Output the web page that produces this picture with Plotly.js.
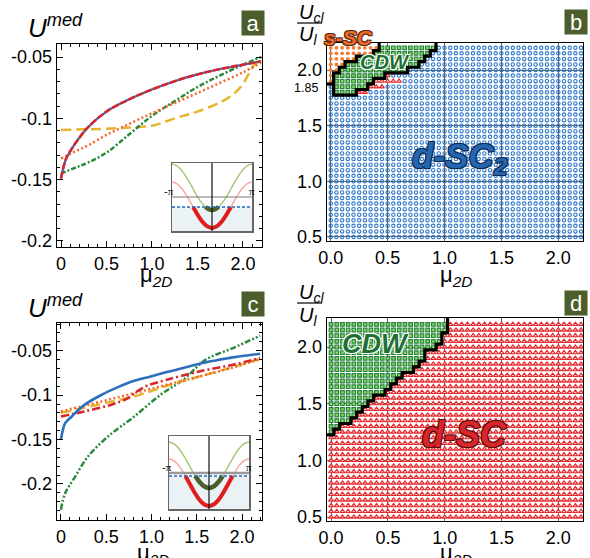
<!DOCTYPE html>
<html><head><meta charset="utf-8">
<script src="https://cdn.plot.ly/plotly-3.0.1.min.js"></script>
<style>body{margin:0;background:#fff}#chart{width:590px;height:558px}</style>
</head><body><div id="chart"></div>
<script>
// ================= DATA =================
// Panel a : U^med vs mu_2D
const muA      = [0, 0.05, 0.1, 0.2, 0.3, 0.5, 0.75, 1.0, 1.25, 1.5, 1.75, 2.0, 2.2];
const aBlue    = [-0.149, -0.134, -0.127, -0.116, -0.107, -0.0945, -0.0845, -0.0765, -0.0697, -0.0642, -0.0598, -0.0563, -0.0535];
const aRed     = [-0.149, -0.134, -0.127, -0.116, -0.107, -0.0945, -0.0845, -0.0765, -0.0697, -0.0642, -0.0598, -0.0563, -0.0535];
const aOrange  = [-0.1326, -0.131, -0.129, -0.1255, -0.122, -0.1135, -0.1045, -0.0958, -0.0875, -0.0794, -0.071, -0.0625, -0.0545];
const aGreen   = [-0.145, -0.1435, -0.142, -0.139, -0.136, -0.128, -0.113, -0.098, -0.086, -0.0745, -0.065, -0.0563, -0.05];
const muAYel   = [0, 0.25, 0.5, 0.75, 1.0, 1.25, 1.5, 1.75, 1.9, 2.0, 2.07, 2.13, 2.2];
const aYellow  = [-0.1095, -0.109, -0.1085, -0.1075, -0.106, -0.1, -0.0945, -0.087, -0.080, -0.072, -0.063, -0.056, -0.0525];

// Panel c : U^med vs mu_2D
const muCBlue  = [0, 0.02, 0.047, 0.12, 0.26, 0.45, 0.63, 0.81, 0.99, 1.17, 1.35, 1.53, 1.71, 1.9, 2.2];
const cBlue    = [-0.150, -0.140, -0.1316, -0.124, -0.111, -0.0996, -0.091, -0.0838, -0.079, -0.074, -0.0695, -0.0647, -0.061, -0.0575, -0.0534];
const muCRed   = [0, 0.26, 0.55, 0.74, 0.84, 0.95, 1.17, 1.53, 1.9, 2.2];
const cRed     = [-0.124, -0.1184, -0.111, -0.1034, -0.0959, -0.0895, -0.0827, -0.0733, -0.0658, -0.0583];
const muCLin   = [0, 0.45, 0.81, 1.17, 1.53, 1.9, 2.2];
const cOrange  = [-0.1184, -0.1071, -0.0977, -0.0883, -0.079, -0.0688, -0.0594];
const cYellow  = [-0.120, -0.1098, -0.1015, -0.0895, -0.079, -0.0684, -0.059];
const muCGreen = [0, 0.047, 0.156, 0.3, 0.52, 0.81, 1.1, 1.35, 1.6, 1.9, 2.2];
const cGreen   = [-0.229, -0.2105, -0.192, -0.169, -0.1466, -0.124, -0.0996, -0.0827, -0.060, -0.047, -0.033];

// Insets (schematic bands, k from -pi to pi)
const kBand = [-3.1416, -2.7489, -2.3562, -1.9635, -1.5708, -1.1781, -0.7854, -0.3927, 0, 0.3927, 0.7854, 1.1781, 1.5708, 1.9635, 2.3562, 2.7489, 3.1416];
const insA_upper = [0.985, 0.959, 0.886, 0.777, 0.648, 0.518, 0.409, 0.336, 0.31, 0.336, 0.409, 0.518, 0.648, 0.777, 0.886, 0.959, 0.985];
const insA_lower = [0.72, 0.694, 0.621, 0.512, 0.383, 0.253, 0.144, 0.071, 0.045, 0.071, 0.144, 0.253, 0.383, 0.512, 0.621, 0.694, 0.72];
const insA_kOccLow = [-1.48, -1.1781, -0.7854, -0.3927, 0, 0.3927, 0.7854, 1.1781, 1.48];
const insA_occLow  = [0.353, 0.254, 0.144, 0.071, 0.045, 0.071, 0.144, 0.254, 0.353];
const insA_kOccUp  = [-0.51, -0.25, 0, 0.25, 0.51];
const insA_occUp   = [0.353, 0.321, 0.31, 0.321, 0.353];
const insA_fermi = 0.353, insA_ref = 0.5;

const insC_upper = [0.918, 0.894, 0.826, 0.724, 0.603, 0.482, 0.380, 0.312, 0.288, 0.312, 0.380, 0.482, 0.603, 0.724, 0.826, 0.894, 0.918];
const insC_lower = [0.685, 0.661, 0.591, 0.486, 0.363, 0.240, 0.135, 0.065, 0.041, 0.065, 0.135, 0.240, 0.363, 0.486, 0.591, 0.661, 0.685];
const insC_kOccLow = [-1.85, -1.5708, -1.1781, -0.7854, -0.3927, 0, 0.3927, 0.7854, 1.1781, 1.5708, 1.85];
const insC_occLow  = [0.452, 0.363, 0.240, 0.135, 0.065, 0.041, 0.065, 0.135, 0.240, 0.363, 0.452];
const insC_kOccUp  = [-1.07, -0.7854, -0.3927, 0, 0.3927, 0.7854, 1.07];
const insC_occUp   = [0.452, 0.380, 0.312, 0.288, 0.312, 0.380, 0.452];
const insC_fermi = 0.452, insC_ref = 0.493;

// Phase diagrams: grid of (mu_2D, U_cl/U_l)
const MU_MIN = 0, MU_MAX = 2.2, U_MIN = 0.5, U_MAX = 2.2, STEP = 0.05;
// panel b: rows with non d-SC2 phases
const rowsB     = [2.2, 2.15, 2.1, 2.05, 2.0, 1.95, 1.9, 1.85, 1.8];
const sscEndB   = [0.4, 0.35, 0.2, 0.1, 0.05, 0, 0, null, null];
const cdwStartB = [0.45, 0.4, 0.25, 0.15, 0.1, 0.05, 0.05, 0.05, 0.05];
const cdwEndB   = [0.9, 0.85, 0.8, 0.75, 0.65, 0.45, 0.35, 0.3, 0.2];
const dscEndB   = [0.9, 0.85, 0.8, 0.75, 0.65, 0.5, 0.6, 0.45, 0.3];
// panel d: CDW up to cdwEndD in each row, d-SC elsewhere
const rowsD   = [2.2, 2.15, 2.1, 2.05, 2.0, 1.95, 1.9, 1.85, 1.8, 1.75, 1.7, 1.65, 1.6, 1.55, 1.5, 1.45, 1.4, 1.35, 1.3, 1.25];
const cdwEndD = [1.0, 1.0, 0.95, 0.95, 0.9, 0.8, 0.8, 0.75, 0.7, 0.6, 0.55, 0.5, 0.45, 0.35, 0.3, 0.25, 0.2, 0.15, 0.05, 0.0];

// tick labels
const tickA_x = [0, 0.5, 1, 1.5, 2], tickA_xt = ['0', '0.5', '1.0', '1.5', '2.0'];
const tickA_y = [-0.2, -0.15, -0.1, -0.05], tickA_yt = ['-0.2', '-0.15', '-0.1', '-0.05'];
const tickPD_x = [0, 0.5, 1, 1.5, 2], tickPD_xt = ['0.0', '0.5', '1.0', '1.5', '2.0'];
const tickPD_y = [0.5, 1, 1.5, 2], tickPD_yt = ['0.5', '1.0', '1.5', '2.0'];

// ================= BUILD =================
const W = 590, H = 558;
const px = v => v / W, py = v => 1 - v / H;
const FONT = 'Liberation Sans, Arial, sans-serif';
const C = {blue:'#2d6fbe', red:'#d8262c', orange:'#f2692b', green:'#2a8a3c', yellow:'#e8b42c'};
const traces = [];
function ln(x, y, color, width, dash, xa, ya) {
  return {x, y, type:'scatter', mode:'lines', xaxis:xa, yaxis:ya, hoverinfo:'skip',
          line:{color, width, dash: dash || 'solid', shape:'spline', smoothing:1}};
}
// panel a
traces.push(ln(muAYel, aYellow, C.yellow, 2.5, '10px,5px', 'x', 'y'));
traces.push(ln(muA, aGreen, C.green, 2.5, '5px,2px,2px,2px', 'x', 'y'));
traces.push(ln(muA, aOrange, C.orange, 2.5, '2px,2.5px', 'x', 'y'));
traces.push(ln(muA, aBlue, C.blue, 2.2, 'solid', 'x', 'y'));
traces.push(ln(muA, aRed, C.red, 2.6, '7px,2px', 'x', 'y'));
// panel c
traces.push(ln(muCGreen, cGreen, C.green, 2.5, '6px,2px,2px,2px,2px,2px', 'x3', 'y3'));
traces.push(ln(muCLin, cYellow, C.yellow, 2.5, '10px,5px', 'x3', 'y3'));
traces.push(ln(muCLin, cOrange, C.orange, 2.5, '2px,2.5px', 'x3', 'y3'));
traces.push(ln(muCRed, cRed, C.red, 2.6, '8px,3px,2px,3px', 'x3', 'y3'));
traces.push(ln(muCBlue, cBlue, C.blue, 2.6, 'solid', 'x3', 'y3'));

// insets
function inset(xa, ya, up, low, kLo, oLo, kUp, oUp) {
  traces.push(ln(kBand, up, '#a8c97e', 1.5, 'solid', xa, ya));
  traces.push(ln(kBand, low, '#f5aaa6', 1.5, 'solid', xa, ya));
  traces.push(ln(kLo, oLo, '#e01c1c', 4, 'solid', xa, ya));
  traces.push(ln(kUp, oUp, '#4c5f2b', 4.5, 'solid', xa, ya));
}
inset('x5', 'y5', insA_upper, insA_lower, insA_kOccLow, insA_occLow, insA_kOccUp, insA_occUp);
inset('x6', 'y6', insC_upper, insC_lower, insC_kOccLow, insC_occLow, insC_kOccUp, insC_occUp);

// phase grid
function vals(a, b) { const n = Math.round((b - a) / STEP), o = []; for (let i = 0; i <= n; i++) o.push(+(a + i * STEP).toFixed(2)); return o; }
const muGrid = vals(MU_MIN, MU_MAX), uGrid = vals(U_MIN, U_MAX);
const eps = 1e-6;
function phaseB(x, y) {
  const i = rowsB.findIndex(r => Math.abs(r - y) < eps);
  if (i < 0) return 'dsc2';
  if (sscEndB[i] !== null && x <= sscEndB[i] + eps) return 'ssc';
  if (x >= cdwStartB[i] - eps && x <= cdwEndB[i] + eps) return 'cdw';
  if (x > cdwEndB[i] + eps && x <= dscEndB[i] + eps) return 'dsc';
  return 'dsc2';
}
function phaseD(x, y) {
  const i = rowsD.findIndex(r => Math.abs(r - y) < eps);
  if (i >= 0 && x <= cdwEndD[i] + eps) return 'cdw';
  return 'dsc';
}
const MK = {
  dsc2: {symbol:'circle-open', size:3.4, color:'#2f78c8', line:{width:1.1, color:'#2f78c8'}},
  ssc:  {symbol:'circle', size:3.8, color:'#f07d2e', line:{width:0}},
  cdw:  {symbol:'square', size:3.6, color:'#8fd46a', line:{width:1.2, color:'#23843a'}},
  dsc:  {symbol:'triangle-up', size:4.4, color:'#ffc8c8', line:{width:1.1, color:'#e3262b'}}
};
function phaseTraces(fn, xa, ya, order) {
  const g = {};
  order.forEach(k => g[k] = {x:[], y:[]});
  uGrid.forEach(u => muGrid.forEach(m => { const p = fn(m, u); g[p].x.push(m); g[p].y.push(u); }));
  order.forEach(k => traces.push({type:'scatter', mode:'markers', x:g[k].x, y:g[k].y, xaxis:xa, yaxis:ya, marker:MK[k], hoverinfo:'skip'}));
}
phaseTraces(phaseB, 'x2', 'y2', ['dsc2', 'dsc', 'ssc', 'cdw']);
phaseTraces(phaseD, 'x4', 'y4', ['dsc', 'cdw']);

// axis ranges
const rA = {x:[-0.044, 2.21], y:[-0.2049, -0.0394]};
const rB = {x:[-0.033, 2.217], y:[0.464, 2.243]};
const rC = {x:[-0.043, 2.22], y:[-0.2406, -0.0188]};
const rD = {x:[-0.036, 2.217], y:[0.465, 2.256]};

// boundaries (staircase along cell edges)
const h = STEP / 2;
function bndB() {
  const xs = [], ys = [], n = rowsB.length;
  for (let i = 0; i < n; i++) { xs.push(cdwEndB[i] + h, cdwEndB[i] + h); ys.push(i === 0 ? rB.y[1] : rowsB[i] + h, rowsB[i] - h); }
  for (let i = n - 1; i >= 0; i--) { xs.push(cdwStartB[i] - h, cdwStartB[i] - h); ys.push(rowsB[i] - h, i === 0 ? rB.y[1] : rowsB[i] + h); }
  let last = -1; sscEndB.forEach((v, i) => { if (v !== null) last = i; });
  xs.push(null, rB.x[0], sscEndB[last] + h); ys.push(null, rowsB[last] - h, rowsB[last] - h);
  return {xs, ys};
}
function bndD() {
  const xs = [], ys = [], n = rowsD.length;
  for (let i = 0; i < n; i++) { xs.push(cdwEndD[i] + h, cdwEndD[i] + h); ys.push(i === 0 ? rD.y[1] : rowsD[i] + h, rowsD[i] - h); }
  xs.push(rD.x[0]); ys.push(rowsD[n - 1] - h);
  return {xs, ys};
}
const bb = bndB(), bd = bndD();
traces.push({type:'scatter', mode:'lines', x:bb.xs, y:bb.ys, xaxis:'x2', yaxis:'y2', line:{color:'#000', width:3.2}, hoverinfo:'skip', connectgaps:false});
traces.push({type:'scatter', mode:'lines', x:bd.xs, y:bd.ys, xaxis:'x4', yaxis:'y4', line:{color:'#000', width:3.2}, hoverinfo:'skip'});

// axes
const tf = {family:FONT, size:18, color:'#000'};
function lineAxis(dom, range, tv, tt, minorD, anchor) {
  return {domain:dom, range, anchor, tickmode:'array', tickvals:tv, ticktext:tt, ticks:'inside', ticklen:6, tickwidth:1, tickcolor:'#000',
          showline:true, mirror:'ticks', linecolor:'#000', linewidth:1.3, showgrid:false, zeroline:false, tickfont:tf,
          minor:{tickmode:'linear', tick0:0, dtick:minorD, ticks:'inside', ticklen:3, tickcolor:'#000', showgrid:false}};
}
function pdAxis(dom, range, tv, tt, anchor) {
  return {domain:dom, range, anchor, tickmode:'array', tickvals:tv, ticktext:tt, ticks:'', showline:true, mirror:true,
          linecolor:'#000', linewidth:1.3, showgrid:true, gridcolor:'#3a3a3a', gridwidth:0.8, zeroline:false, tickfont:tf};
}
function insetAxis(dom, range, anchor) {
  return {domain:dom, range, anchor, showticklabels:false, ticks:'', showgrid:false, zeroline:false, showline:true, mirror:true, linecolor:'#666', linewidth:1.5};
}
const domAx = [px(57), px(262)], domAy = [py(247), py(44)];
const domBx = [px(327), px(583)], domBy = [py(241), py(43)];
const domCx = [px(57), px(262)], domCy = [py(520), py(323)];
const domDx = [px(327), px(583)], domDy = [py(521), py(318)];
const domIAx = [px(172), px(252)], domIAy = [py(231), py(163)];
const domICx = [px(169), px(249)], domICy = [py(509), py(436)];

const layout = {
  width:W, height:H, margin:{l:0, r:0, t:0, b:0}, paper_bgcolor:'#fff', plot_bgcolor:'#fff', showlegend:false,
  font:{family:FONT, color:'#000'},
  xaxis: lineAxis(domAx, rA.x, tickA_x, tickA_xt, 0.1, 'y'),
  yaxis: lineAxis(domAy, rA.y, tickA_y, tickA_yt, 0.01, 'x'),
  xaxis2: pdAxis(domBx, rB.x, tickPD_x, tickPD_xt, 'y2'),
  yaxis2: pdAxis(domBy, rB.y, tickPD_y, tickPD_yt, 'x2'),
  xaxis3: lineAxis(domCx, rC.x, tickA_x, tickA_xt, 0.1, 'y3'),
  yaxis3: lineAxis(domCy, rC.y, tickA_y, tickA_yt, 0.01, 'x3'),
  xaxis4: pdAxis(domDx, rD.x, tickPD_x, tickPD_xt, 'y4'),
  yaxis4: pdAxis(domDy, rD.y, tickPD_y, tickPD_yt, 'x4'),
  xaxis5: insetAxis(domIAx, [-Math.PI, Math.PI], 'y5'),
  yaxis5: insetAxis(domIAy, [0, 1], 'x5'),
  xaxis6: insetAxis(domICx, [-Math.PI, Math.PI], 'y6'),
  yaxis6: insetAxis(domICy, [0, 1], 'x6'),
  shapes: [
    {type:'rect', xref:'x5', yref:'y5', x0:-Math.PI, x1:Math.PI, y0:0, y1:insA_fermi, fillcolor:'#eaf2f5', line:{width:0}, layer:'below'},
    {type:'line', xref:'x5', yref:'y5', x0:-Math.PI, x1:Math.PI, y0:insA_ref, y1:insA_ref, line:{color:'#777', width:1.2}},
    {type:'line', xref:'x5', yref:'y5', x0:0, x1:0, y0:0, y1:1, line:{color:'#111', width:1.2}},
    {type:'line', xref:'x5', yref:'y5', x0:-Math.PI, x1:Math.PI, y0:insA_fermi, y1:insA_fermi, line:{color:'#2467b8', width:1.3, dash:'3px,2px'}},
    {type:'rect', xref:'x6', yref:'y6', x0:-Math.PI, x1:Math.PI, y0:0, y1:insC_fermi, fillcolor:'#eaf2f5', line:{width:0}, layer:'below'},
    {type:'line', xref:'x6', yref:'y6', x0:-Math.PI, x1:Math.PI, y0:insC_ref, y1:insC_ref, line:{color:'#999', width:2.5}},
    {type:'line', xref:'x6', yref:'y6', x0:0, x1:0, y0:0, y1:1, line:{color:'#111', width:1.2}},
    {type:'line', xref:'x6', yref:'y6', x0:-Math.PI, x1:Math.PI, y0:insC_fermi, y1:insC_fermi, line:{color:'#2467b8', width:1.3, dash:'3px,2px'}},
    {type:'line', xref:'paper', yref:'paper', x0:px(297), x1:px(322), y0:py(23), y1:py(23), line:{color:'#000', width:1.2}},
    {type:'line', xref:'paper', yref:'paper', x0:px(297), x1:px(322), y0:py(303), y1:py(303), line:{color:'#000', width:1.2}}
  ],
  annotations: []
};
const A = layout.annotations;
function ann(text, x, y, size, opts) {
  A.push(Object.assign({text, x:px(x), y:py(y), xref:'paper', yref:'paper', showarrow:false, xanchor:'center', yanchor:'middle',
    font:{family:FONT, size, color:'#000'}}, opts || {}));
}
ann('<i>U<sup>med</sup></i>', 26, 27, 26, {xanchor:'left'});
ann('<i>U<sup>med</sup></i>', 26, 306, 26, {xanchor:'left'});
ann('<i>U<sub>cl</sub></i>', 297, 13, 20, {xanchor:'left'});
ann('<i>U<sub>l</sub></i>', 297, 36, 20, {xanchor:'left'});
ann('<i>U<sub>cl</sub></i>', 297, 293, 20, {xanchor:'left'});
ann('<i>U<sub>l</sub></i>', 297, 316, 20, {xanchor:'left'});
ann('μ<sub><i>2D</i></sub>', 156, 276, 22);
ann('μ<sub><i>2D</i></sub>', 456, 276, 22);
ann('μ<sub><i>2D</i></sub>', 153, 554, 22);
ann('μ<sub><i>2D</i></sub>', 456, 554, 22);
ann('1.85', 320, 88, 12.5, {xanchor:'right'});
[['a', 253, 23], ['b', 575.5, 22], ['c', 252.5, 304], ['d', 575.5, 303]].forEach(([t, x, y]) =>
  ann(t, x, y, 22, {bgcolor:'#4c5e2c', width:20, height:22, font:{family:FONT, size:22, color:'#fff'}}));
const piF = {family:'Liberation Serif, serif', size:11, color:'#000'};
ann('-π', 169, 191, 11, {font:piF});
ann('π', 252, 191, 11, {font:piF});
ann('-π', 167, 467, 11, {font:piF});
ann('π', 249, 467, 11, {font:piF});
const outline = c => `-1px -1px 0 ${c}, 1px -1px 0 ${c}, -1px 1px 0 ${c}, 1px 1px 0 ${c}`;
ann('<b><i>s-SC</i></b>', 348, 37, 21, {font:{family:FONT, size:21, color:'#ee6a28', shadow:outline('#5a2a10')}});
ann('<b><i>CDW</i></b>', 385, 62, 20, {font:{family:FONT, size:20, color:'#1e7034', shadow:outline('#ffffff')}});
ann('<b><i>d-SC<sub>2</sub></i></b>', 460, 158, 35, {font:{family:FONT, size:35, color:'#2566b0', shadow:outline('#0d2a50')}});
ann('<b><i>CDW</i></b>', 375, 344, 27, {font:{family:FONT, size:27, color:'#1e7034', shadow:outline('#ffffff')}});
ann('<b><i>d-SC</i></b>', 464, 434, 36, {font:{family:FONT, size:36, color:'#d8262c', shadow:outline('#5a0c0c')}});

Plotly.newPlot('chart', traces, layout, {staticPlot:true, displayModeBar:false});
</script></body></html>
